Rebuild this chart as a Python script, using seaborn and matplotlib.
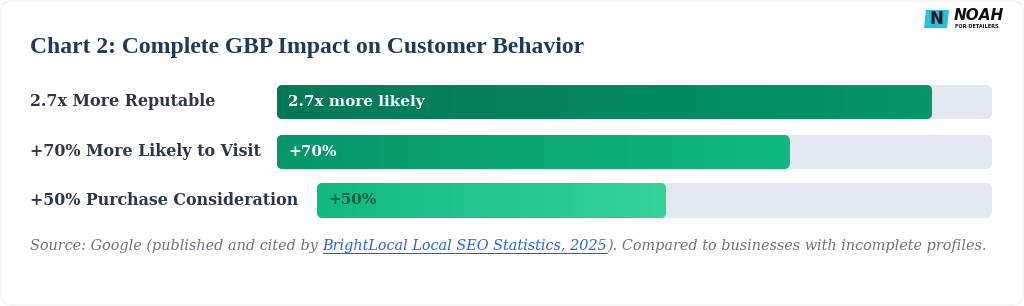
import matplotlib
matplotlib.use("Agg")
import matplotlib.pyplot as plt
import numpy as np
import pandas as pd
import seaborn as sns
from matplotlib.patches import FancyBboxPatch, Polygon
from matplotlib.colors import LinearSegmentedColormap

# data
labels = ["2.7x More Reputable", "+70% More Likely to Visit", "+50% Purchase Consideration"]
bar_texts = ["2.7x more likely", "+70%", "+50%"]
fill_pct = [91.6, 71.7, 51.7]
track_max = 100

title = "Chart 2: Complete GBP Impact on Customer Behavior"
source_parts = ["Source: Google (published and cited by ",
                "BrightLocal Local SEO Statistics, 2025",
                "). Compared to businesses with incomplete profiles."]
source_colors = ["#6b7280", "#2563eb", "#6b7280"]

grad_left = ["#047857", "#059669", "#10b981"]
grad_right = ["#059669", "#10b981", "#34d399"]
text_colors = ["white", "white", "#065f46"]
track_color = "#e2e8f0"

sns.set_theme(style="white")
plt.rcParams["font.family"] = ["DejaVu Serif"]

W, H = 1024, 306
fig = plt.figure(figsize=(W / 100, H / 100), dpi=100)
fig.patch.set_facecolor("white")

# overlay in pixel coords (y down) for the free text
ov = fig.add_axes([0, 0, 1, 1])
ov.set_xlim(0, W)
ov.set_ylim(H, 0)
ov.axis("off")

# card border
ov.add_patch(FancyBboxPatch((1, 1), W - 2, H - 2, boxstyle="round,pad=0,rounding_size=10",
                            fc="none", ec="#f2f3f5", lw=1))

ov.text(30, 47, title, fontsize=17, weight="bold", color="#1e3a5f", va="center", ha="left",
        family="Liberation Serif")

# row boxes in pixels: left, top, right, bottom
rows = [(277, 85, 992, 119), (277, 135, 992, 169), (317, 183, 992, 218)]
radius = 6

for i, (l, t, r, b) in enumerate(rows):
    ov.text(30, (t + b) / 2, labels[i], fontsize=11.4, weight="bold", color="#2d3748",
            va="center", ha="left")

    ax = fig.add_axes([l / W, 1 - b / H, (r - l) / W, (b - t) / H])
    df = pd.DataFrame({"label": [labels[i]], "value": [fill_pct[i]], "track": [track_max]})
    sns.barplot(data=df, x="track", y="label", orient="h", color=track_color,
                saturation=1, width=1, errorbar=None, ax=ax)
    sns.barplot(data=df, x="value", y="label", orient="h", color=grad_left[i],
                saturation=1, width=1, errorbar=None, ax=ax)

    px_x = (r - l) / track_max
    px_y = (b - t)
    rx = radius / px_x
    asp = px_x / px_y

    # swap square bars for rounded ones, gradient on the fill
    for k, p in enumerate(list(ax.patches)):
        x0, y0 = p.get_xy()
        w, h = p.get_width(), p.get_height()
        p.set_visible(False)
        rp = FancyBboxPatch((x0, y0), w, h, boxstyle=f"round,pad=0,rounding_size={rx}",
                            mutation_aspect=asp, fc=p.get_facecolor(), ec="none", zorder=2 + k)
        ax.add_patch(rp)
        if k == 1:
            cmap = LinearSegmentedColormap.from_list("g", [grad_left[i], grad_right[i]])
            grad = np.linspace(0, 1, 256).reshape(1, -1)
            im = ax.imshow(grad, cmap=cmap, extent=(x0, x0 + w, y0 + h, y0),
                           aspect="auto", zorder=4)
            im.set_clip_path(rp)

    ax.annotate(bar_texts[i], xy=(0, 0), xytext=(11, 0), textcoords="offset pixels",
                va="center", ha="left", fontsize=11, weight="bold", color=text_colors[i], zorder=5)
    ax.set_xlim(0, track_max)
    ax.set_ylim(0.5, -0.5)
    ax.axis("off")

# logo
ov.add_patch(Polygon([(926, 10), (949, 10), (947, 28), (924, 28)], closed=True,
                     fc="#22c1dc", ec="none"))
ov.text(936.5, 19.5, "N", fontsize=12, weight="bold", color="#111111", ha="center",
        va="center", family="DejaVu Sans")
ov.text(954, 16, "NOAH", fontsize=11, weight="bold", style="italic", color="#111111",
        ha="left", va="center", family="DejaVu Sans")
ov.text(955, 26, "FOR DETAILERS", fontsize=3.6, weight="bold", color="#111111",
        ha="left", va="center", family="DejaVu Sans")

# source line: place pieces one after another on the same baseline
inv = ov.transData.inverted()
x_cur = 30
for k, part in enumerate(source_parts):
    txt = ov.text(x_cur, 250, part, fontsize=10.4, style="italic", va="baseline", ha="left",
                  color=source_colors[k])
    fig.canvas.draw()
    bb = txt.get_window_extent()
    x_end = inv.transform((bb.x1, bb.y0))[0]
    if k == 1:
        ov.plot([x_cur, x_end], [252.5, 252.5], color="#2563eb", lw=0.8)
    x_cur = x_end

fig.savefig("out.png", dpi=100, facecolor="white")
